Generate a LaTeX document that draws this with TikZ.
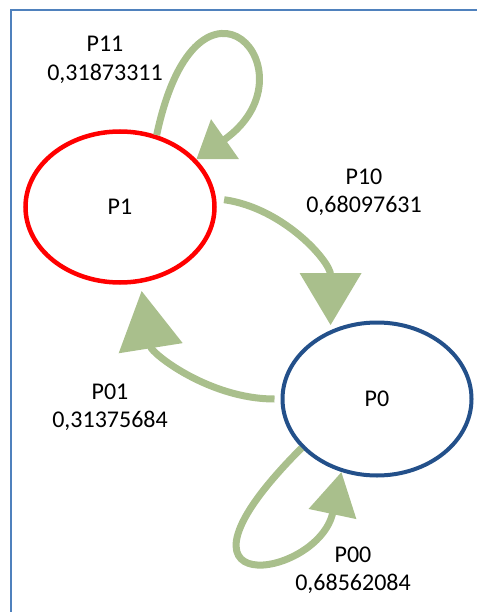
\documentclass[tikz,border=0pt]{standalone}
\usepackage{fontspec}
\setmainfont{Carlito}
\usetikzlibrary{shapes.geometric, arrows.meta, positioning}
\definecolor{rojoEstado}{HTML}{FF0000}
\definecolor{azulEstado}{HTML}{23508A}
\definecolor{verdeFlecha}{HTML}{A9BF8C}
\definecolor{azulMarco}{HTML}{4F81BD}

\begin{document}
\begin{tikzpicture}[
        x=1pt, y=1pt,
        estado/.style={ellipse, draw, line width=4.5pt, inner sep=0pt, minimum width=189pt,
            font=\fontsize{24}{29}\selectfont},
        trans/.style 2 args={-{Triangle[length=#1, width=#2]}, line width=7pt, draw=verdeFlecha},
        prob/.style={align=center, font=\fontsize{24}{28.5}\selectfont}
    ]
        \useasboundingbox (0,0) rectangle (477,-612);
        \draw[azulMarco, line width=2pt] (11,-612) |- (477,-10);

        \node[estado, draw=rojoEstado, minimum height=151pt] (p1) at (120,-207) {P1};
        \node[estado, draw=azulEstado, line width=4pt, minimum height=153pt] (p0) at (377,-399) {P0};

        \draw[trans={35pt}{47pt}] (p1.63) .. controls +(78:199) and +(35:150) .. (p1.32);
        \draw[trans={52pt}{60pt}, shorten <=8pt, shorten >=5pt] (p1.5) to[out=-8, in=90] (p0.124);
        \draw[trans={58pt}{63pt}, shorten <=6pt, shorten >=8pt] (p0.west) to[out=180, in=-81] (p1.285);
        \draw[trans={43pt}{47pt}] (p0.213) .. controls +(225:223) and +(258:110) .. (p0.244);

        \node[prob] (l11) at (105,-60) {P11\\0,31873311};
        \node[prob] (l10) at (364,-192) {P10\\0,68097631};
        \node[prob] (l01) at (110,-407) {P01\\0,31375684};
        \node[prob] (l00) at (353,-570) {P00\\0,68562084};
    \end{tikzpicture}
\end{document}
